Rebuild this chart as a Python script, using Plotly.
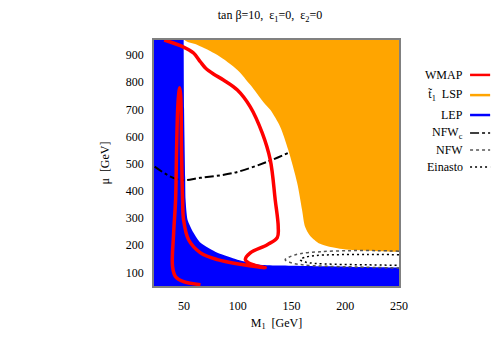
import plotly.graph_objects as go

# WMAP contour (M1, mu)
wmap_x = [65.3, 49.5, 42.1, 39.3, 40.3, 42.1, 43.0, 44.0, 44.9, 45.8, 46.8, 47.6, 48.6, 49.5,
          54.2, 65.3, 81.0, 105.2, 125.5, 120.9, 109.8, 107.0, 111.6, 127.4, 136.7, 137.6,
          134.8, 130.2, 122.7, 111.6, 99.6, 86.6, 77.3, 69.9, 65.3, 58.8, 49.5, 31.5]
wmap_y = [55, 66, 84, 121, 246, 367, 551, 698, 753, 779, 753, 551, 367, 294,
          220, 172, 147, 128, 117, 121, 136, 147, 172, 202, 228, 268,
          367, 514, 613, 709, 771, 808, 830, 852, 874, 907, 929, 955]

# stop LSP excluded region (boundary, closed beyond the visible frame)
lsp_x = [50.0, 50.5, 62.5, 81.0, 99.6, 111.6, 123.7, 130.2, 139.5, 146.9, 155.2, 159.8, 162.6,
         167.2, 176.5, 195.0, 220.0, 250.0, 265.0, 265.0]
lsp_y = [1000, 955, 937, 900, 845, 790, 727, 698, 635, 551, 430, 330, 268,
         235, 205, 187, 180, 176, 175, 1000]

# LEP excluded region
lep_x = [10, 49.5, 49.6, 50.0, 51.0, 51.4, 53.2, 58.8, 65.3, 81.0, 99.6, 120.9, 139.5, 200, 250, 265, 265, 10]
lep_y = [1000, 1000, 955, 700, 450, 367, 294, 246, 209, 172, 147, 128, 125, 121, 118, 117, 0, 0]

# NFW_c line
nfwc_x = [22.6, 44.9, 65.3, 95.9, 127.4, 148.7]
nfwc_y = [489, 441, 448, 466, 507, 543]

# NFW contour
nfw_x = [250, 230, 204, 176.5, 158, 148.7, 144.1, 150, 160, 180, 210, 250]
nfw_y = [178, 180, 180, 176, 169, 158, 147, 135, 128, 123, 120, 116]

# Einasto contour
ein_x = [250, 220, 190, 172, 163, 158, 163, 172, 190, 220, 250]
ein_y = [165, 166, 165, 162, 156, 147, 138, 133, 130, 128, 126]

xticks = [50, 100, 150, 200, 250]
yticks = [100, 200, 300, 400, 500, 600, 700, 800, 900]

SERIF = "Liberation Serif, Times New Roman, serif"

fig = go.Figure()
fig.add_trace(go.Scatter(x=lsp_x, y=lsp_y, fill="toself", fillcolor="#FFA500",
                         line=dict(width=0, color="#FFA500", shape="spline", smoothing=0.8),
                         mode="lines", hoverinfo="skip"))
fig.add_trace(go.Scatter(x=lep_x, y=lep_y, fill="toself", fillcolor="#0000FF",
                         line=dict(width=0, color="#0000FF", shape="spline", smoothing=0.6),
                         mode="lines", hoverinfo="skip"))
fig.add_trace(go.Scatter(x=nfw_x, y=nfw_y, mode="lines",
                         line=dict(color="#555555", width=1.5, dash="dot", shape="spline")))
fig.add_trace(go.Scatter(x=ein_x, y=ein_y, mode="lines",
                         line=dict(color="black", width=1.5, dash="2px,3px", shape="spline")))
fig.add_trace(go.Scatter(x=nfwc_x, y=nfwc_y, mode="lines",
                         line=dict(color="black", width=2, dash="dashdot", shape="spline")))
fig.add_trace(go.Scatter(x=wmap_x, y=wmap_y, mode="lines",
                         line=dict(color="#FF0000", width=3.5, shape="spline")))

# legend (gnuplot style: text then sample)
legend = [("WMAP", "#FF0000", "solid", 2.5),
          ("t\u0303<sub>1</sub>  LSP", "#FFA500", "solid", 2.5),
          ("LEP", "#0000FF", "solid", 2.5),
          ("NFW<sub>c</sub>", "black", "dashdot", 1.5),
          ("NFW", "#555555", "dot", 1.5),
          ("Einasto", "black", "2px,3px", 1.5)]
ys = [0.858, 0.776, 0.695, 0.622, 0.553, 0.484]
for (txt, col, dash, w), yy in zip(legend, ys):
    fig.add_annotation(x=1.269, y=yy, xref="paper", yref="paper", text=txt,
                       showarrow=False, xanchor="right", yanchor="middle",
                       font=dict(family=SERIF, size=12, color="black"))
    fig.add_shape(type="line", xref="paper", yref="paper", x0=1.29, x1=1.372, y0=yy, y1=yy,
                  line=dict(color=col, width=w, dash=dash))

fig.update_layout(
    width=491, height=343,
    margin=dict(l=154, r=92, t=40, b=57),
    paper_bgcolor="white", plot_bgcolor="white",
    showlegend=False,
    title=dict(text="tan \u03b2=10,  \u03b5<sub>1</sub>=0,  \u03b5<sub>2</sub>=0",
               x=(270) / 491, xanchor="center", y=1 - 15 / 343, yanchor="middle",
               font=dict(family=SERIF, size=12, color="black")),
    font=dict(family=SERIF, size=12, color="black"),
)
fig.update_xaxes(range=[22, 250], tickvals=xticks, showgrid=False, zeroline=False,
                 showline=True, linecolor="#808080", linewidth=1.5, mirror=True,
                 ticks="", ticklabelstandoff=8,
                 title=dict(text="M<sub>1</sub>  [GeV]", standoff=6,
                            font=dict(family=SERIF, size=12)))
fig.update_yaxes(range=[50, 955], tickvals=yticks, showgrid=False, zeroline=False,
                 showline=True, linecolor="#808080", linewidth=1.5, mirror=True,
                 ticks="", ticklabelstandoff=6,
                 title=dict(text="\u03bc  [GeV]", standoff=14,
                            font=dict(family=SERIF, size=12)))

fig.write_html("out.html")
